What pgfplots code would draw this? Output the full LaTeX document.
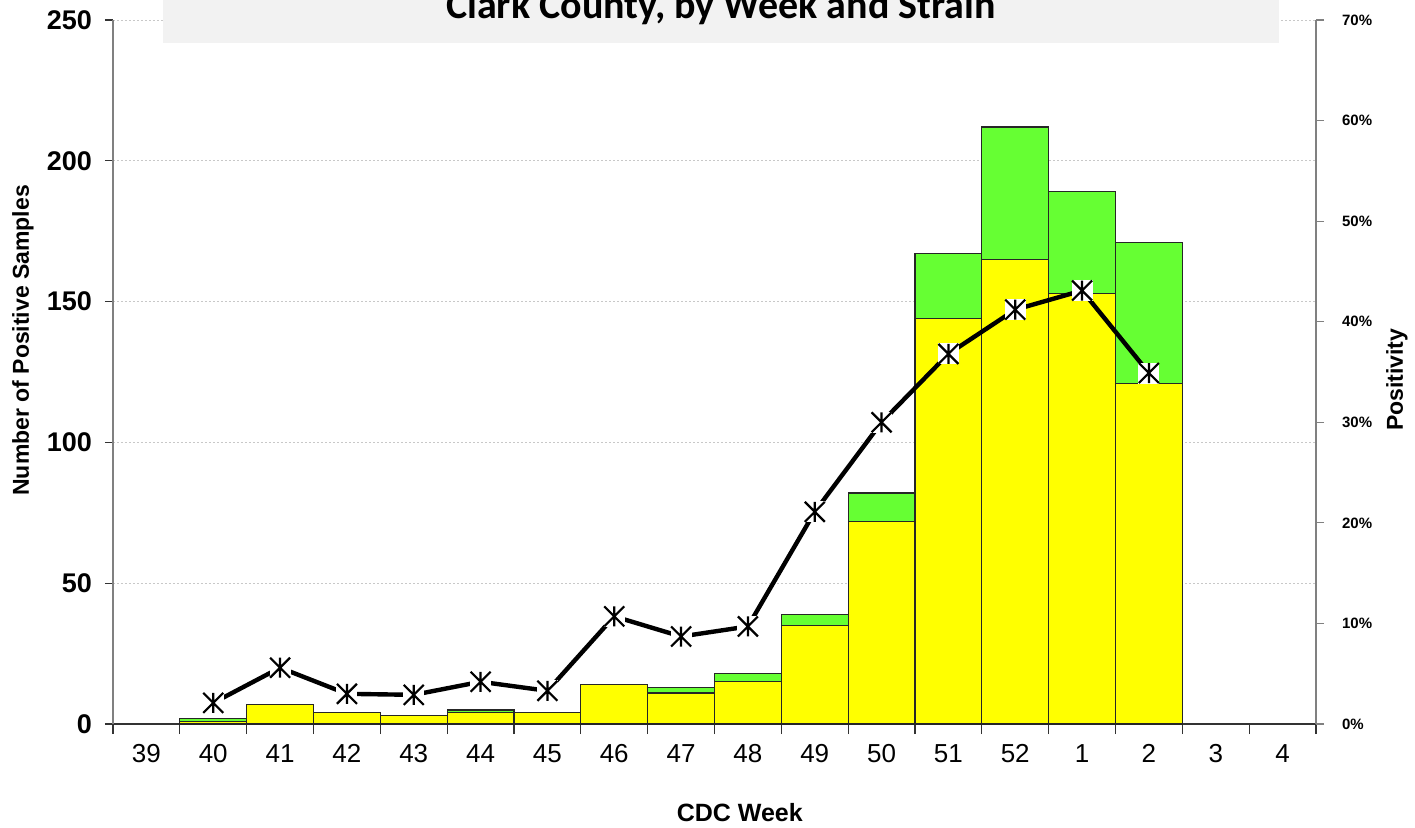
\documentclass[border=0pt]{standalone}
\usepackage{fontspec}
\setmainfont{Liberation Sans}
\newfontfamily\titlefont{Carlito}
\usepackage{pgfplots}
\pgfplotsset{compat=1.18}
\definecolor{ylw}{HTML}{FFFF00}
\definecolor{grn}{HTML}{66FF33}
\definecolor{gridc}{HTML}{C8C8C8}
\definecolor{axc}{HTML}{808080}
\definecolor{titlebg}{HTML}{F2F2F2}
\pgfdeclareplotmark{xlstar}{%
  \pgfpathmoveto{\pgfqpoint{0pt}{\pgfplotmarksize}}%
  \pgfpathlineto{\pgfqpoint{0pt}{-\pgfplotmarksize}}%
  \pgfpathmoveto{\pgfqpoint{-\pgfplotmarksize}{\pgfplotmarksize}}%
  \pgfpathlineto{\pgfqpoint{\pgfplotmarksize}{-\pgfplotmarksize}}%
  \pgfpathmoveto{\pgfqpoint{-\pgfplotmarksize}{-\pgfplotmarksize}}%
  \pgfpathlineto{\pgfqpoint{\pgfplotmarksize}{\pgfplotmarksize}}%
  \pgfusepathqstroke}
\begin{document}
\begin{tikzpicture}
\begin{axis}[
  at={(0,0)}, anchor=south west,
  scale only axis, width=601.5pt, height=352pt,
  xmin=-0.5, xmax=17.5, ymin=0, ymax=250,
  axis x line*=bottom, axis y line*=left,
  x axis line style={draw=black!80, line width=0.6pt, -},
  y axis line style={draw=axc, line width=1pt, -},
  xtick={0,...,17},
  xticklabels={39,40,41,42,43,44,45,46,47,48,49,50,51,52,1,2,3,4},
  major x tick style={draw=none},
  minor xtick={-0.5,0.5,...,17.5},
  minor x tick style={draw=black!80, line width=0.6pt},
  minor tick length=5pt,
  major tick length=4pt,
  tick align=outside,
  xticklabel style={font=\fontsize{13}{15}\selectfont, anchor=north, text height=9.4pt, text depth=0pt, yshift=-2.5pt},
  ytick={0,50,100,150,200,250},
  yticklabels={0,50,100,150,200,250},
  y tick style={draw=black!80, line width=0.6pt},
  yticklabel style={font=\bfseries\fontsize{13.5}{16}\selectfont, xshift=-3pt},
  ymajorgrids, grid style={gridc, dash pattern=on 1pt off 1pt, line width=0.5pt},
  ybar stacked, bar width=1,
  xlabel={CDC Week},
  xlabel style={font=\bfseries\fontsize{12.5}{15}\selectfont, at={(axis description cs:0.521,0)}, yshift=-44.5pt, anchor=center},
  ylabel={Number of Positive Samples},
  ylabel style={font=\bfseries\fontsize{11.5}{14}\selectfont, at={(axis description cs:-0.0748,0.545)}, anchor=center},
]
\addplot[fill=ylw, draw=black!85, line width=0.6pt] coordinates {
(1,1) (2,7) (3,4) (4,3) (5,4) (6,4) (7,14) (8,11) (9,15) (10,35) (11,72) (12,144) (13,165) (14,153) (15,121)};
\addplot[fill=grn, draw=black!85, line width=0.6pt] coordinates {
(1,1) (2,0) (3,0) (4,0) (5,1) (6,0) (7,0) (8,2) (9,3) (10,4) (11,10) (12,23) (13,47) (14,36) (15,50)};
\end{axis}
\begin{axis}[
  at={(0,0)}, anchor=south west,
  scale only axis, width=601.5pt, height=352pt,
  xmin=-0.5, xmax=17.5, ymin=0, ymax=70,
  axis x line=none, axis y line*=right,
  y axis line style={draw=axc, line width=1pt, -},
  ytick={0,10,...,70},
  yticklabels={0\%,10\%,20\%,30\%,40\%,50\%,60\%,70\%},
  tick align=outside, major tick length=4pt,
  y tick style={draw=axc, line width=0.6pt},
  yticklabel style={font=\bfseries\fontsize{7.5}{9}\selectfont, xshift=5.5pt},
  ylabel={Positivity},
  ylabel style={font=\bfseries\fontsize{11.5}{14}\selectfont, at={(axis description cs:1.0673,0.489)}, anchor=center},
]
\addplot[black, line width=2.2pt, mark=square*, mark size=5pt, mark options={fill=white, draw=white, line width=0pt}] coordinates {
(1,2.1) (2,5.6) (3,3.0) (4,2.9) (5,4.2) (6,3.3) (7,10.7) (8,8.7) (9,9.7) (10,21.1) (11,30.0) (12,36.8) (13,41.2) (14,43.1) (15,34.9)};
\addplot[only marks, mark=xlstar, mark size=5pt, mark options={draw=black, line width=1.1pt}] coordinates {
(1,2.1) (2,5.6) (3,3.0) (4,2.9) (5,4.2) (6,3.3) (7,10.7) (8,8.7) (9,9.7) (10,21.1) (11,30.0) (12,36.8) (13,41.2) (14,43.1) (15,34.9)};
\end{axis}
\fill[titlebg] (25pt,340.5pt) rectangle (583pt,400pt);
\node[anchor=base, inner sep=0pt, font=\titlefont\bfseries\fontsize{20}{24}\selectfont] at (304pt,353pt) {Clark County, by Week and Strain};
\pgfresetboundingbox
\useasboundingbox (-56.5pt,-51.5pt) rectangle (651pt,362pt);
\end{tikzpicture}
\end{document}
